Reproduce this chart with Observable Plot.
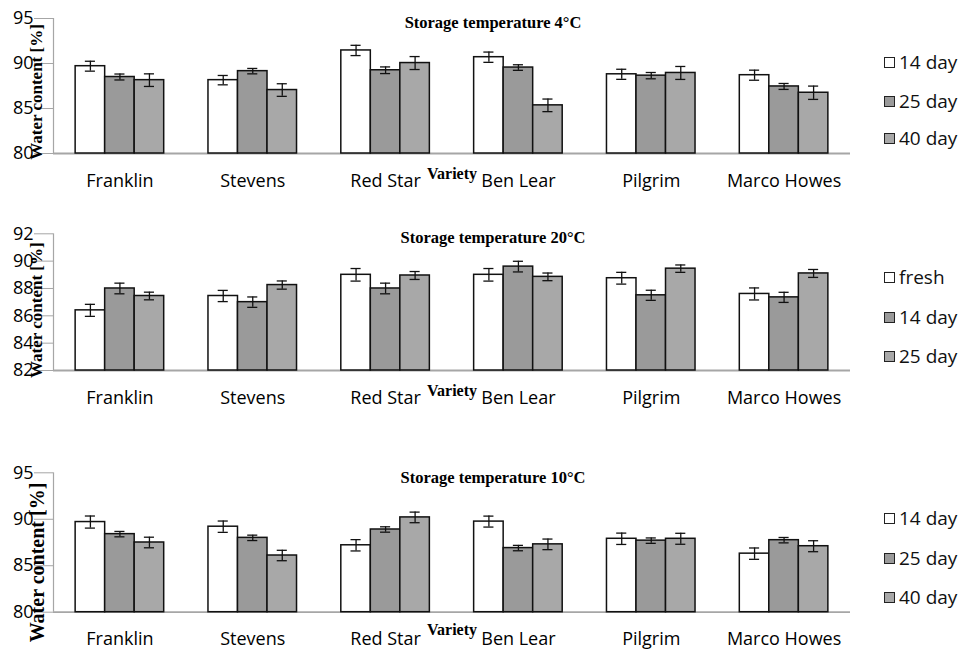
<!DOCTYPE html>
<html>
<head>
<meta charset="utf-8">
<script src="https://cdn.jsdelivr.net/npm/d3@7"></script>
<script src="https://cdn.jsdelivr.net/npm/@observablehq/plot@0.6"></script>
<style>
  body { margin: 0; background: white; }
  #root { position: relative; width: 964px; height: 651px; background: white; overflow: hidden; }
  #root svg { position: absolute; left: 0; }
  .leg { position: absolute; left: 884px; font-family: "Open Sans", sans-serif; font-size: 19px; color: #111; display: flex; align-items: center; height: 24px; line-height: 24px; }
  .leg .sw { display: inline-block; width: 11px; height: 11px; border: 1.3px solid #222; margin-right: 4px; box-sizing: border-box; }
</style>
</head>
<body>
<div id="root"></div>
<script>
// ---- data ----
const varieties = ["Franklin", "Stevens", "Red Star", "Ben Lear", "Pilgrim", "Marco Howes"];

// Storage temperature 4°C
const series4 = ["14 day", "25 day", "40 day"];
const w4_14 = [89.7, 88.15, 91.45, 90.7, 88.8, 88.7];
const e4_14 = [0.55, 0.52, 0.57, 0.57, 0.56, 0.56];
const w4_25 = [88.5, 89.15, 89.25, 89.55, 88.65, 87.45];
const e4_25 = [0.33, 0.3, 0.37, 0.31, 0.35, 0.33];
const w4_40 = [88.15, 87.05, 90.05, 85.35, 88.95, 86.75];
const e4_40 = [0.7, 0.7, 0.72, 0.7, 0.72, 0.74];

// Storage temperature 20°C
const series20 = ["fresh", "14 day", "25 day"];
const w20_fresh = [86.4, 87.45, 89.0, 89.0, 88.75, 87.6];
const e20_fresh = [0.44, 0.41, 0.46, 0.46, 0.43, 0.44];
const w20_14 = [88.0, 87.0, 88.0, 89.6, 87.5, 87.35];
const e20_14 = [0.39, 0.38, 0.39, 0.39, 0.37, 0.37];
const w20_25 = [87.45, 88.25, 88.95, 88.85, 89.45, 89.1];
const e20_25 = [0.28, 0.3, 0.29, 0.28, 0.27, 0.29];

// Storage temperature 10°C
const series10 = ["14 day", "25 day", "40 day"];
const w10_14 = [89.7, 89.2, 87.2, 89.75, 87.9, 86.3];
const e10_14 = [0.65, 0.61, 0.61, 0.59, 0.61, 0.61];
const w10_25 = [88.4, 88.0, 88.9, 86.9, 87.7, 87.75];
const e10_25 = [0.29, 0.29, 0.29, 0.29, 0.29, 0.29];
const w10_40 = [87.5, 86.1, 90.2, 87.3, 87.9, 87.1];
const e10_40 = [0.57, 0.56, 0.57, 0.57, 0.59, 0.59];

const ticks4 = [80, 85, 90, 95];
const ticks20 = [82, 84, 86, 88, 90, 92];
const ticks10 = [80, 85, 90, 95];

const fills = ["#ffffff", "#9a9a9a", "#a8a8a8"];

// ---- drawing ----
const root = document.getElementById("root");

function panel(cfg) {
  const rows = [];
  cfg.values.forEach((vals, j) => {
    vals.forEach((v, i) => {
      rows.push({i, j, series: cfg.series[j], variety: varieties[i], value: v, err: cfg.errs[j][i]});
    });
  });
  const slot = 2 / 9;               // width of one bar in group units
  const left = d => d.i - 1 / 3 + d.j * slot;
  const center = d => left(d) + slot / 2;
  const cap = 0.038;
  const ymin = cfg.ticks[0], ymax = cfg.ticks[cfg.ticks.length - 1];

  const chart = Plot.plot({
    width: 964,
    height: cfg.height,
    marginTop: cfg.mt,
    marginBottom: cfg.mb,
    marginLeft: 53,
    marginRight: 114,
    x: {domain: [-0.5, 5.5], axis: null},
    y: {domain: [ymin, ymax], axis: null},
    style: {fontFamily: "Open Sans", fontSize: "18px", color: "black", background: "transparent", overflow: "visible"},
    marks: [
      Plot.ruleX([-0.5], {stroke: "#a6a6a6", strokeWidth: 1.2}),
      Plot.axisY({ticks: cfg.ticks, tickSize: 19, tickPadding: 1, stroke: "#a6a6a6", fill: "black", label: null, fontSize: 18}),
      Plot.axisX({ticks: d3.range(varieties.length), tickFormat: i => varieties[i], tickSize: 0, tickPadding: cfg.tickPad, label: null, fontSize: 18}),
      Plot.ruleY([ymin], {stroke: "#a6a6a6", strokeWidth: 1.8}),
      Plot.rectY(rows, {
        x1: left, x2: d => left(d) + slot, y1: () => ymin, y2: "value",
        fill: d => fills[d.j], stroke: "#111", strokeWidth: 1.5
      }),
      Plot.ruleX(rows, {x: center, y1: d => d.value - d.err, y2: d => d.value + d.err, stroke: "#111", strokeWidth: 1.3}),
      Plot.ruleY(rows, {y: d => d.value + d.err, x1: d => center(d) - cap, x2: d => center(d) + cap, stroke: "#111", strokeWidth: 1.3}),
      Plot.ruleY(rows, {y: d => d.value - d.err, x1: d => center(d) - cap, x2: d => center(d) + cap, stroke: "#111", strokeWidth: 1.3}),
      Plot.text([cfg.title], {text: d => d, frameAnchor: "top", dx: 41, dy: cfg.titleDy, lineAnchor: "middle",
        fontFamily: "Liberation Serif", fontWeight: "bold", fontSize: 16.5, fill: "black"}),
      Plot.text(["Variety"], {text: d => d, frameAnchor: "bottom", dy: cfg.varDy, lineAnchor: "middle",
        fontFamily: "Liberation Serif", fontWeight: "bold", fontSize: 16, fill: "black"}),
      Plot.text(["Water content [%]"], {text: d => d, frameAnchor: "left", dx: cfg.ylabDx, dy: cfg.ylabDy, rotate: -90,
        textAnchor: "middle", lineAnchor: "middle",
        fontFamily: "Liberation Serif", fontWeight: "bold", fontSize: cfg.ylabSize, fill: "black"})
    ]
  });
  chart.style.top = cfg.top + "px";
  root.appendChild(chart);

  cfg.series.forEach((s, j) => {
    const d = document.createElement("div");
    d.className = "leg";
    d.style.top = (cfg.legY[j] - 12) + "px";
    const sw = document.createElement("span");
    sw.className = "sw";
    sw.style.background = fills[j];
    d.appendChild(sw);
    d.appendChild(document.createTextNode(s));
    root.appendChild(d);
  });
}

panel({
  top: 0, height: 200, mt: 18, mb: 47,
  ticks: ticks4, series: series4,
  values: [w4_14, w4_25, w4_40], errs: [e4_14, e4_25, e4_40],
  title: "Storage temperature 4°C", titleDy: 4, varDy: 20, tickPad: 21,
  ylabSize: 17, ylabDx: -17, ylabDy: 6,
  legY: [62, 101, 138]
});

panel({
  top: 215, height: 200, mt: 18.3, mb: 45,
  ticks: ticks20, series: series20,
  values: [w20_fresh, w20_14, w20_25], errs: [e20_fresh, e20_14, e20_25],
  title: "Storage temperature 20°C", titleDy: 4, varDy: 20, tickPad: 21,
  ylabSize: 17, ylabDx: -17, ylabDy: 8,
  legY: [277, 317, 356]
});

panel({
  top: 455, height: 196, mt: 17.3, mb: 39.3,
  ticks: ticks10, series: series10,
  values: [w10_14, w10_25, w10_40], errs: [e10_14, e10_25, e10_40],
  title: "Storage temperature 10°C", titleDy: 5, varDy: 18, tickPad: 20,
  ylabSize: 20, ylabDx: -15.5, ylabDy: 20,
  legY: [518, 558, 597]
});
</script>
</body>
</html>
